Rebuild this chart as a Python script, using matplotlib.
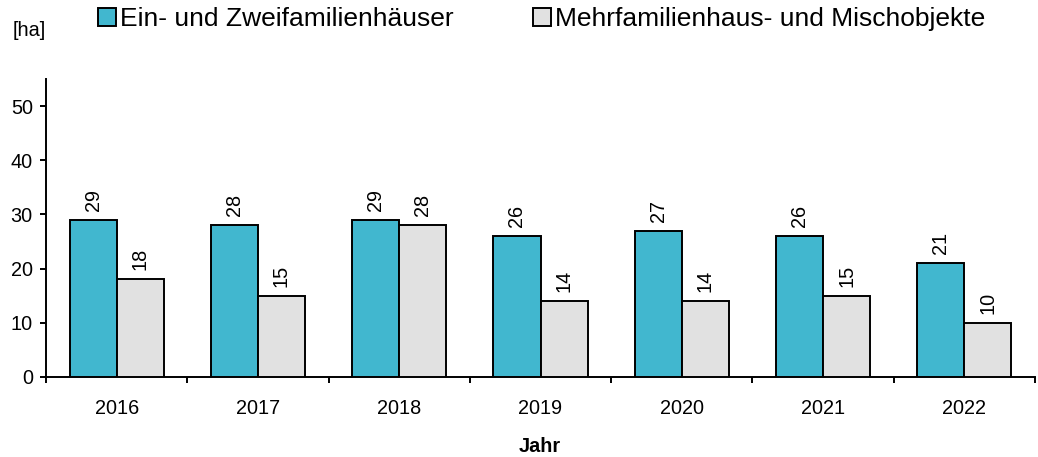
import matplotlib
matplotlib.use("Agg")
import matplotlib.pyplot as plt
import numpy as np
from matplotlib.patches import Patch

years = ["2016", "2017", "2018", "2019", "2020", "2021", "2022"]
ein_zwei = [29, 28, 29, 26, 27, 26, 21]
mehr = [18, 15, 28, 14, 14, 15, 10]
series_names = ["Ein- und Zweifamilienhäuser", "Mehrfamilienhaus- und Mischobjekte"]
y_ticks = [0, 10, 20, 30, 40, 50]

plt.rcParams['font.family'] = ['Liberation Sans', 'DejaVu Sans']

BLUE = "#41B7CF"
GREY = "#E1E1E1"
FS = 14.3
LW = 1.4

fig = plt.figure(figsize=(10.38, 4.57), dpi=100)
W, H = 1038, 457
ax = fig.add_axes([46 / W, (H - 377) / H, (1035 - 46) / W, (377 - 79) / H])

x = np.arange(len(years))
bw = 1 / 3
b1 = ax.bar(x - bw / 2, ein_zwei, bw, color=BLUE, edgecolor="black", linewidth=LW, zorder=3)
b2 = ax.bar(x + bw / 2, mehr, bw, color=GREY, edgecolor="black", linewidth=LW, zorder=3)

for bars, vals in ((b1, ein_zwei), (b2, mehr)):
    for r, v in zip(bars, vals):
        ax.annotate(str(v), (r.get_x() + r.get_width() / 2, v), xytext=(0, 6.5),
                    textcoords="offset points", rotation=90, ha="center", va="bottom",
                    fontsize=FS)

ax.set_xlim(-0.5, len(years) - 0.5)
ax.set_ylim(0, 55)
ax.set_yticks(y_ticks)
ax.set_yticklabels([str(t) for t in y_ticks], fontsize=FS)
ax.set_xticks(np.arange(len(years) + 1) - 0.5)
ax.set_xticklabels([])
ax.set_xticks(x, minor=True)
ax.set_xticklabels(years, minor=True, fontsize=FS)
ax.tick_params(axis="x", which="major", direction="out", length=4.5, width=LW)
ax.tick_params(axis="x", which="minor", length=0, pad=15.5)
ax.tick_params(axis="y", direction="out", length=4.5, width=LW, pad=5)
for s in ("top", "right"):
    ax.spines[s].set_visible(False)
for s in ("left", "bottom"):
    ax.spines[s].set_linewidth(LW)

fig.text(540 / W, 1 - 446 / H, "Jahr", ha="center", va="center", fontsize=FS, fontweight="bold")
fig.text(29 / W, 1 - 31 / H, "[ha]", ha="center", va="center", fontsize=FS)

handles = [Patch(facecolor=BLUE, edgecolor="black", linewidth=LW),
           Patch(facecolor=GREY, edgecolor="black", linewidth=LW)]
fig.legend(handles, series_names, loc="center left", bbox_to_anchor=(98 / W, 1 - 19 / H),
           ncol=2, frameon=False, fontsize=19, handlelength=0.68, handleheight=0.68,
           handletextpad=0.15, columnspacing=3.0, borderpad=0, borderaxespad=0)

fig.savefig("out.png", dpi=100)
